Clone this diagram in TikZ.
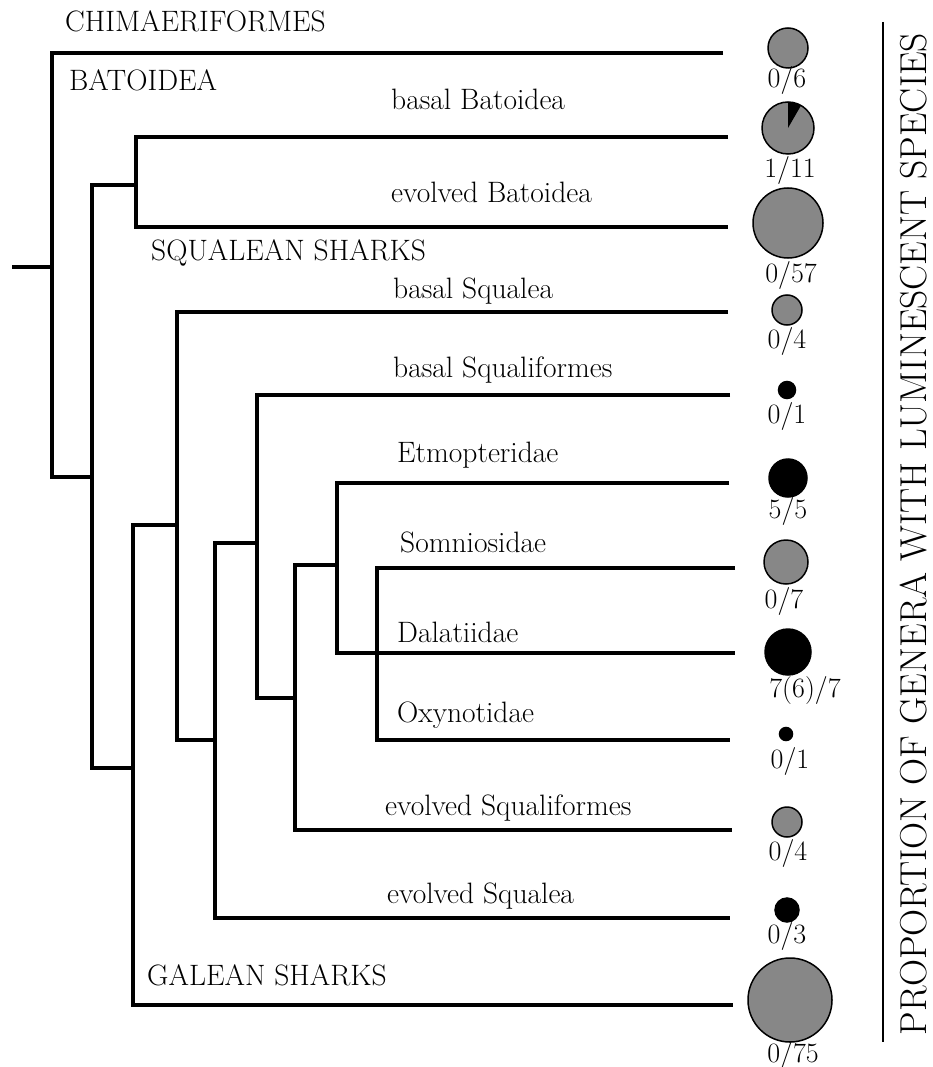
\documentclass[tikz,border=0pt]{standalone}
\definecolor{dotgray}{RGB}{135,135,135}
\begin{document}
\begin{tikzpicture}[x=1pt,y=-1pt,
  br/.style={line width=4.5pt, line join=miter},
  lbl/.style={anchor=base west, inner sep=0pt, font=\fontsize{29.5}{29.5}\selectfont},
  num/.style={anchor=base, inner sep=0pt, font=\fontsize{28}{28}\selectfont},
  gdot/.style={circle, draw=black, line width=1.5pt, fill=dotgray, inner sep=0pt},
  bdot/.style={circle, draw=black, line width=1.5pt, fill=black, inner sep=0pt}]
\useasboundingbox (0,0) rectangle (933,1067);

% ---- internal nodes (stem attachment points) ----
\coordinate (r0) at (12,267);
\coordinate (n1) at (52,267);
\coordinate (n2) at (92,477);
\coordinate (n3) at (136,185);
\coordinate (n4) at (133,768);
\coordinate (n5) at (177,525);
\coordinate (n6) at (215,740);
\coordinate (n7) at (257,543);
\coordinate (n8) at (295,698);
\coordinate (n9) at (337,565);
\coordinate (n10) at (377,653);
% ---- tips ----
\coordinate (tChim) at (723,53);
\coordinate (tbB) at (728,137);
\coordinate (teB) at (728,227);
\coordinate (tbSq) at (728,312);
\coordinate (tbSqf) at (730,395);
\coordinate (tEtm) at (729,483);
\coordinate (tSom) at (735,568);
\coordinate (tDal) at (735,653);
\coordinate (tOxy) at (730,740);
\coordinate (teSqf) at (732,830);
\coordinate (teSq) at (730,918);
\coordinate (tGal) at (733,1005);

% ---- branches ----
\draw[br] (r0) -- (n1);
\draw[br] (tChim) -| (n1) |- (n2);
\draw[br] (n3) -| (n2) |- (n4);
\draw[br] (tbB) -| (n3) |- (teB);
\draw[br] (n5) -| (n4) |- (tGal);
\draw[br] (tbSq) -| (n5) |- (n6);
\draw[br] (n7) -| (n6) |- (teSq);
\draw[br] (tbSqf) -| (n7) |- (n8);
\draw[br] (n9) -| (n8) |- (teSqf);
\draw[br] (tEtm) -| (n9) |- (tDal);
\draw[br] (tSom) -| (n10) |- (tOxy);

% ---- labels ----
\node[lbl] (lChim) at (65,32) {CHIMAERIFORMES};
\node[lbl] (lBat) at (69,91) {BATOIDEA};
\node[lbl] (lbB) at (391,110) {basal Batoidea};
\node[lbl] (leB) at (391,203) {evolved Batoidea};
\node[lbl] (lSqS) at (151,260) {SQUALEAN SHARKS};
\node[lbl] (lbSq) at (393,298) {basal Squalea};
\node[lbl] (lbSqf) at (393,377) {basal Squaliformes};
\node[lbl] (lEtm) at (397,462) {Etmopteridae};
\node[lbl] (lSom) at (400,552) {Somniosidae};
\node[lbl] (lDal) at (397,642) {Dalatiidae};
\node[lbl] (lOxy) at (397,722) {Oxynotidae};
\node[lbl] (leSqf) at (385,815) {evolved Squaliformes};
\node[lbl] (leSq) at (387,903) {evolved Squalea};
\node[lbl] (lGal) at (147,985) {GALEAN SHARKS};

% ---- proportion circles ----
\node[gdot, minimum size=40pt] (c1) at (788,48) {};
\node[gdot, minimum size=52pt] (c2) at (788,128) {};
\fill[black] (c2.center) -- ++(90:26pt) arc[start angle=90, end angle=60, radius=26pt] -- cycle;
\node[gdot, minimum size=70pt] (c3) at (788,223) {};
\node[gdot, minimum size=30pt] (c4) at (787,310) {};
\node[bdot, minimum size=17pt] (c5) at (787,390) {};
\node[bdot, minimum size=38pt] (c6) at (788,478) {};
\node[gdot, minimum size=44pt] (c7) at (786,562) {};
\node[bdot, minimum size=46pt] (c8) at (788,652) {};
\node[bdot, minimum size=13pt] (c9) at (786,734) {};
\node[gdot, minimum size=30pt] (c10) at (787,822) {};
\node[bdot, minimum size=24pt] (c11) at (787,910) {};
\node[gdot, minimum size=84pt] (c12) at (790,1000) {};

\node[num] (p1) at (787,88) {0/6};
\node[num] (p2) at (790,178) {1/11};
\node[num] (p3) at (791,282) {0/57};
\node[num] (p4) at (787,348) {0/4};
\node[num] (p5) at (787,423) {0/1};
\node[num] (p6) at (788,518) {5/5};
\node[num] (p7) at (784,608) {0/7};
\node[num] (p8) at (805,697) {7(6)/7};
\node[num] (p9) at (790,768) {0/1};
\node[num] (p10) at (788,860) {0/4};
\node[num] (p11) at (787,943) {0/3};
\node[num] (p12) at (793,1062) {0/75};

% ---- right axis ----
\coordinate (vt) at (883,22);
\coordinate (vb) at (883,1042);
\draw[line width=1.5pt] (vt) -- (vb);
\node[rotate=90, inner sep=0pt, font=\fontsize{37.5}{37.5}\selectfont] (title) at (914,534) {PROPORTION OF GENERA WITH LUMINESCENT SPECIES};
\end{tikzpicture}
\end{document}
